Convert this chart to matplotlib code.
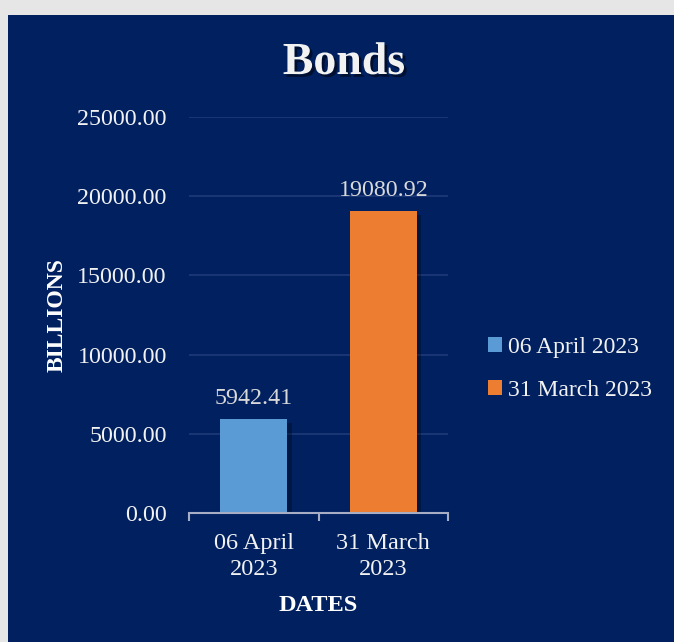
import matplotlib.pyplot as plt
import matplotlib.patheffects as pe
from matplotlib.patches import Patch

# Data
categories = ["06 April\n2023", "31 March\n2023"]
series_names = ["06 April 2023", "31 March 2023"]
values = [5942.41, 19080.92]
y_ticks = [0, 5000, 10000, 15000, 20000, 25000]

navy = "#002060"
bar_colors = ["#5B9BD5", "#ED7D31"]
plt.rcParams["font.family"] = ["Liberation Serif", "DejaVu Serif"]

fig = plt.figure(figsize=(6.74, 6.42), dpi=100)
fig.patch.set_facecolor("#e6e6e6")

# dark panel behind the chart
bg = fig.add_axes([8 / 674, 0, 1 - 8 / 674, 1 - 15 / 642], zorder=0)
bg.set_axis_off()
bg.add_patch(plt.Rectangle((0, 0), 1, 1, transform=bg.transAxes, color=navy))

ax = fig.add_axes([189 / 674, 1 - 513 / 642, 259 / 674, 396 / 642], zorder=1)
ax.set_facecolor("none")

x = range(len(values))
ax.bar(x, values, width=0.52, color=bar_colors, zorder=3,
       path_effects=[pe.SimplePatchShadow(offset=(3, -3), shadow_rgbFace="black", alpha=0.3),
                     pe.Normal()])

for xi, v in zip(x, values):
    ax.annotate(f"{v:.2f}", (xi, v), xytext=(0, 7), textcoords="offset points",
                ha="center", va="bottom", fontsize=17.3, color="#d9d9d9")

ax.set_xlim(-0.5, 1.5)
ax.set_ylim(0, 25000)
ax.set_yticks(y_ticks)
ax.set_yticklabels([f"{t:.2f}" for t in y_ticks], fontsize=17.3, color="#f2f2f2")
ax.tick_params(axis="y", length=0, pad=16)
ax.yaxis.grid(True, color="#1f3a78", linewidth=1.2, zorder=0)
ax.set_axisbelow(True)

ax.set_xticks([0, 1])
ax.set_xticklabels(categories, fontsize=17.5, color="#f2f2f2", linespacing=1.3)
ax.set_xticks([-0.5, 0.5, 1.5], minor=True)
ax.tick_params(axis="x", which="major", length=0, pad=14.5)
ax.tick_params(axis="x", which="minor", length=6, width=1.5, color="#a6adc4", direction="out")

for s in ["top", "right", "left"]:
    ax.spines[s].set_visible(False)
ax.spines["bottom"].set_color("#a6adc4")
ax.spines["bottom"].set_linewidth(1.5)
ax.spines["bottom"].set_zorder(4)

ax.set_xlabel("DATES", fontsize=17.5, fontweight="bold", color="white", labelpad=11)
fig.text(57 / 674, 1 - 315 / 642, "BILLIONS", rotation=90, ha="center", va="center",
         fontsize=17, fontweight="bold", color="white")

title = fig.text(344 / 674, 1 - 63 / 642, "Bonds", ha="center", va="center",
                 fontsize=33, fontweight="bold", color="#f2f2f2")
title.set_path_effects([pe.withSimplePatchShadow(offset=(2, -2), shadow_rgbFace="black", alpha=0.5)])

handles = [Patch(facecolor=c, edgecolor="none") for c in bar_colors]
ax.legend(handles, series_names, loc="center left", bbox_to_anchor=(467 / 674, 1 - 369 / 642),
          bbox_transform=fig.transFigure, frameon=False, fontsize=17,
          labelcolor="#f2f2f2", handlelength=0.6, handleheight=0.6,
          handletextpad=0.25, labelspacing=0.95)

fig.savefig("out.png", dpi=100, facecolor=fig.get_facecolor())
